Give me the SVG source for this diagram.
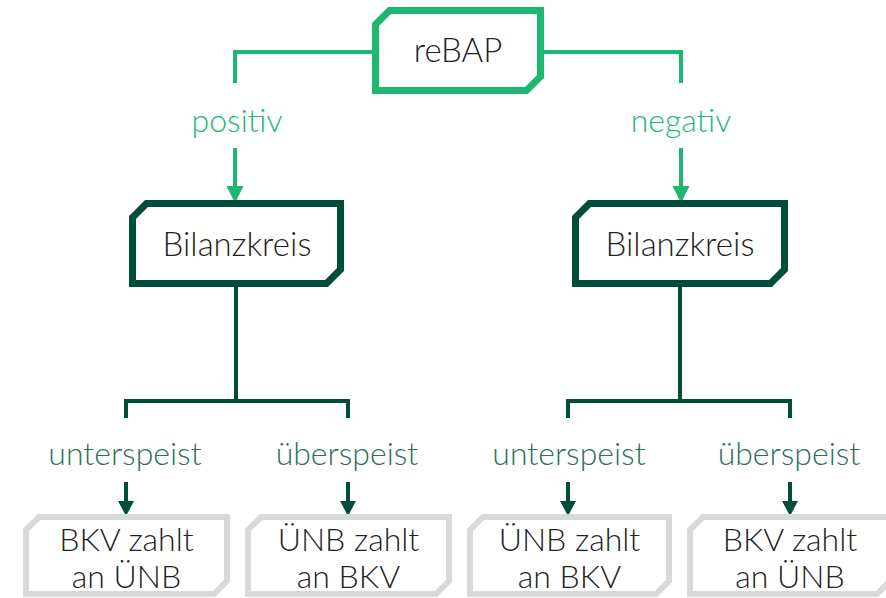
<svg xmlns="http://www.w3.org/2000/svg" width="886" height="598" viewBox="0 0 886 598">
<defs>
<style>
text{font-family:Lato,"Liberation Sans",sans-serif;font-weight:300;text-anchor:middle}
.t{font-size:33px;fill:#222}
.b{font-size:32px;fill:#222}
.lg{font-size:32px;fill:#1db870}
.ld{font-size:32px;fill:#2f6f5c}
.cg{fill:none;stroke:#1db870;stroke-width:4}
.cd{fill:none;stroke:#004d3a;stroke-width:4}
</style>
</defs>
<g id="connectors">
<path class="cg" d="M372,52 H235 V83"/>
<path class="cg" d="M544,52 H681 V83"/>
<path class="cg" d="M235,148 V188"/><path d="M226.5,186 H243.5 L235,203 Z" fill="#1db870"/>
<path class="cg" d="M681,148 V188"/><path d="M672.5,186 H689.5 L681,203 Z" fill="#1db870"/>
<path class="cd" d="M236,287 V401 M126,418 V401 H348 V418"/>
<path class="cd" d="M680,287 V401 M568,418 V401 H790 V418"/>
<path class="cd" d="M126,482 V502"/><path d="M118,501 H134 L126,516 Z" fill="#004d3a"/>
<path class="cd" d="M348,482 V502"/><path d="M340,501 H356 L348,516 Z" fill="#004d3a"/>
<path class="cd" d="M568,482 V502"/><path d="M560,501 H576 L568,516 Z" fill="#004d3a"/>
<path class="cd" d="M790,482 V502"/><path d="M782,501 H798 L790,516 Z" fill="#004d3a"/>
<text class="lg" x="237" y="132">positiv</text>
<text class="lg" x="681" y="132">negativ</text>
<text class="ld" x="125" y="465">unterspeist</text>
<text class="ld" x="347" y="465">überspeist</text>
<text class="ld" x="569" y="465">unterspeist</text>
<text class="ld" x="789" y="465">überspeist</text>
</g>
<g id="reBAP">
<path d="M389.5,10.5 H540.5 V76.5 L526.5,90.5 H375.5 V24.5 Z" fill="#fff" stroke="#1db870" stroke-width="7"/>
<text class="t" x="458" y="62">reBAP</text>
</g>
<g id="bilanzkreis-pos">
<path d="M146.5,203.5 H340.5 V269.5 L326.5,283.5 H132.5 V217.5 Z" fill="#fff" stroke="#004d3a" stroke-width="7"/>
<text class="t" x="237" y="256">Bilanzkreis</text>
</g>
<g id="bilanzkreis-neg">
<path d="M589.5,203.5 H784.5 V269.5 L770.5,283.5 H575.5 V217.5 Z" fill="#fff" stroke="#004d3a" stroke-width="7"/>
<text class="t" x="680" y="256">Bilanzkreis</text>
</g>
<g id="box1">
<path d="M39,517 H227 V581 L214,594 H26 V530 Z" fill="#fff" stroke="#d9d9d9" stroke-width="6"/>
<text class="b" x="126.5" y="551">BKV zahlt</text>
<text class="b" x="126.5" y="588">an ÜNB</text>
</g>
<g id="box2">
<path d="M261,517 H449 V581 L436,594 H248 V530 Z" fill="#fff" stroke="#d9d9d9" stroke-width="6"/>
<text class="b" x="348.5" y="551">ÜNB zahlt</text>
<text class="b" x="348.5" y="588">an BKV</text>
</g>
<g id="box3">
<path d="M483,517 H669 V581 L656,594 H470 V530 Z" fill="#fff" stroke="#d9d9d9" stroke-width="6"/>
<text class="b" x="569.5" y="551">ÜNB zahlt</text>
<text class="b" x="569.5" y="588">an BKV</text>
</g>
<g id="box4">
<path d="M703,517 H890 V581 L877,594 H690 V530 Z" fill="#fff" stroke="#d9d9d9" stroke-width="6"/>
<text class="b" x="790" y="551">BKV zahlt</text>
<text class="b" x="790" y="588">an ÜNB</text>
</g>
</svg>
